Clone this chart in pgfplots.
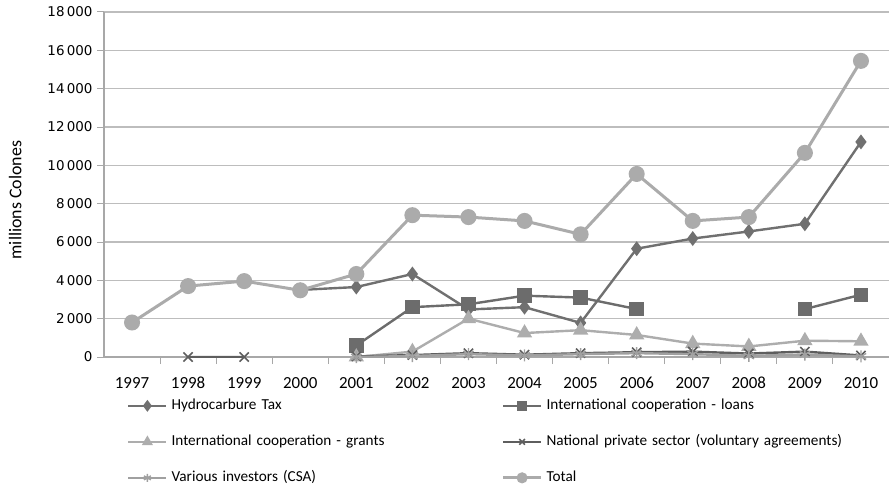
\documentclass[border=0pt]{standalone}
\usepackage{pgfplots}
\pgfplotsset{compat=1.18}
\usepackage{fontspec}
\setmainfont{Carlito}
\newfontfamily\dejavu{DejaVu Sans}
\usetikzlibrary{plotmarks}

\definecolor{hydro}{HTML}{707070}
\definecolor{loans}{HTML}{6C6C6C}
\definecolor{grants}{HTML}{ADADAD}
\definecolor{natpriv}{HTML}{5E5E5E}
\definecolor{csa}{HTML}{A0A0A0}
\definecolor{total}{HTML}{ABABAB}
\definecolor{gridc}{HTML}{BDBDBD}
\definecolor{axisc}{HTML}{A8A8A8}

\begin{document}
\begin{tikzpicture}
\begin{axis}[
  scale only axis,
  width=785bp, height=345bp,
  xmin=-0.5, xmax=13.5,
  ymin=0, ymax=18000,
  axis x line*=bottom,
  axis y line*=left,
  axis line style={draw=axisc, line width=1.1bp},
  xtick={0,...,13},
  xticklabels={1997,1998,1999,2000,2001,2002,2003,2004,2005,2006,2007,2008,2009,2010},
  xtick style={draw=none},
  extra x ticks={0.5,1.5,...,12.5},
  extra x tick labels={},
  extra x tick style={xtick style={draw=axisc, line width=1bp}, grid=none},
  ytick distance=2000,
  scaled y ticks=false,
  ytick style={draw=axisc, line width=1bp},
  tick align=outside,
  major tick length=7bp,
  ymajorgrids,
  grid style={draw=gridc, line width=1.4bp},
  /pgf/number format/assume math mode=true,
  /pgf/number format/1000 sep={\,},
  yticklabel style={font=\dejavu\fontsize{13.5}{15}\selectfont, xshift=-1bp},
  xticklabel style={font=\fontsize{17}{19}\selectfont, anchor=north, text height=12bp, text depth=0bp, yshift=-9bp},
  ylabel={millions Colones},
  ylabel style={at={(axis description cs:-0.113,0.455)}, anchor=center, font=\fontsize{18}{20}\selectfont},
  unbounded coords=jump,
  legend columns=2,
  legend cell align=left,
  legend style={
    at={(axis description cs:0.0293,-0.12)}, anchor=north west,
    draw=none, fill=none, inner sep=0pt,
    font=\fontsize{15.3}{17}\selectfont,
    row sep=21.5bp,
    nodes={inner sep=0pt, text height=11bp, text depth=3.5bp, text width=330bp, align=left},
    /tikz/every even column/.append style={column sep=0bp},
    /tikz/every odd column/.append style={column sep=4bp},
  },
  legend image code/.code={
    \draw[mark repeat=2, mark phase=2, mark size=4bp] plot coordinates {(0bp,0bp) (19bp,0bp) (38bp,0bp)};
  },
]

% Hydrocarbure Tax
\addplot[color=hydro, line width=2.4bp, mark=diamond*, mark size=5.5bp, mark options={solid}]
  coordinates {(3,3500) (4,3650) (5,4330) (6,2480) (7,2600) (8,1780) (9,5650) (10,6180) (11,6550) (12,6950) (13,11220)};
\addlegendentry{Hydrocarbure Tax}

% International cooperation - loans
\addplot[color=loans, line width=2.4bp, mark=square*, mark size=6bp]
  coordinates {(4,600) (5,2600) (6,2750) (7,3200) (8,3100) (9,2500) (10,nan) (11,nan) (12,2500) (13,3250)};
\addlegendentry{International cooperation - loans}

% International cooperation - grants
\addplot[color=grants, line width=2.4bp, mark=triangle*, mark size=6.5bp]
  coordinates {(4,0) (5,280) (6,2000) (7,1250) (8,1400) (9,1150) (10,700) (11,550) (12,850) (13,820)};
\addlegendentry{International cooperation - grants}

% National private sector
\addplot[color=natpriv, line width=2.4bp, mark=x, mark size=6.5bp, mark options={line width=1.6bp}]
  coordinates {(1,0) (2,0) (3,nan) (4,30) (5,100) (6,200) (7,120) (8,200) (9,250) (10,280) (11,180) (12,280) (13,80)};
\addlegendentry{National private sector (voluntary agreements)}

% Various investors (CSA)
\addplot[color=csa, line width=2.4bp, mark=asterisk, mark size=6bp, mark options={line width=1.4bp}]
  coordinates {(4,0) (5,50) (6,150) (7,80) (8,150) (9,200) (10,150) (11,60) (12,130) (13,30)};
\addlegendentry{Various investors (CSA)}

% Total
\addplot[color=total, line width=3bp, mark=*, mark size=6.5bp]
  coordinates {(0,1800) (1,3700) (2,3960) (3,3480) (4,4330) (5,7400) (6,7300) (7,7100) (8,6400) (9,9550) (10,7100) (11,7300) (12,10650) (13,15450)};
\addlegendentry{Total}

\end{axis}
\pgfresetboundingbox
\path[use as bounding box] (-104bp,-141bp) rectangle (785bp,357bp);
\end{tikzpicture}
\end{document}
